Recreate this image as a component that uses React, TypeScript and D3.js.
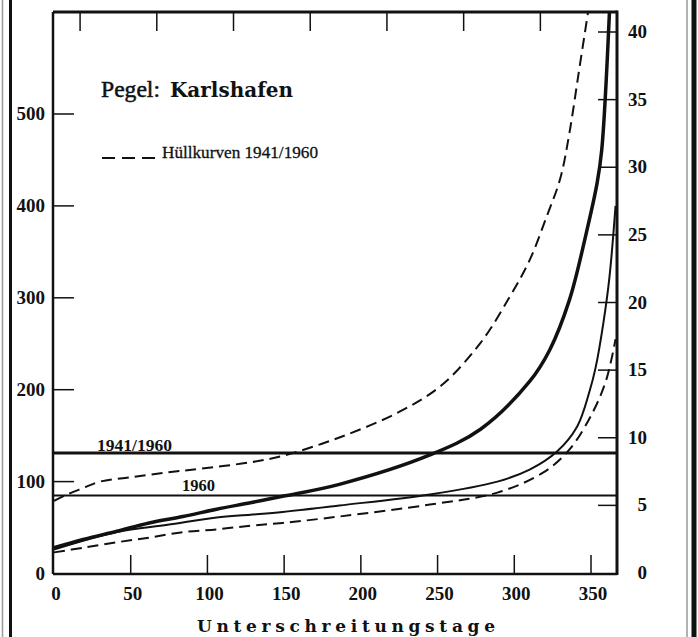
import React from "react";
import * as d3 from "d3";

// Unterschreitungstage (days) / Wasserstand (cm)
const hullUpper: [number, number][] = [
  [0, 79], [8.5, 86], [19, 93], [30, 100], [51, 105], [74, 110], [95, 114], [128, 121],
  [149, 128], [186, 148], [224, 175], [252, 204], [278, 251], [297, 301], [310, 341],
  [321, 388], [330, 430], [336, 480], [342, 545], [348, 610],
];
const median4160: [number, number][] = [
  [0, 28], [19, 37], [41, 46], [62, 55], [84, 62], [106, 70], [128, 77], [149, 84],
  [186, 97], [245, 129], [278, 157], [310, 209], [323, 243], [336, 298], [347, 371],
  [354, 425], [357, 461], [362, 610],
];
const curve1960: [number, number][] = [
  [0, 26], [41, 45], [74, 53], [106, 61], [128, 64], [149, 67], [186, 74], [245, 86],
  [289, 100], [310, 113], [328, 133], [341, 160], [349, 198], [353, 224], [358, 272],
  [362, 322], [366, 400],
];
const hullLower: [number, number][] = [
  [0, 23], [19, 28], [41, 34], [62, 39], [84, 45], [106, 48], [128, 52], [149, 55],
  [186, 62], [245, 75], [289, 88], [319, 110], [336, 135], [351, 175], [360, 211],
  [366, 255],
];

const levelLines = [
  { label: "1941/1960", value: 131, width: 3 },
  { label: "1960", value: 85, width: 2 },
];

const xTicks = [50, 100, 150, 200, 250, 300, 350];
const xLabels = [0, 50, 100, 150, 200, 250, 300, 350];
const topTicks = [17, 67, 117, 167, 217, 267, 317];
const leftTicks = [100, 200, 300, 400, 500];
const leftLabels = [0, 100, 200, 300, 400, 500];
const rightTicks = [5, 10, 15, 20, 25, 30, 35, 40];
const rightLabels = [0, 5, 10, 15, 20, 25, 30, 35, 40];

export default function App() {
  const W = 698, H = 637;
  const L = 53, R = 617, T = 12, B = 574;
  const x = d3.scaleLinear().domain([0, 350]).range([54, 591]);
  const yL = d3.scaleLinear().domain([0, 500]).range([573.5, 114]);
  const yR = d3.scaleLinear().domain([0, 40]).range([573, 32]);
  const line = d3
    .line<[number, number]>()
    .x((d) => x(d[0]))
    .y((d) => yL(d[1]))
    .curve(d3.curveCatmullRom.alpha(0.5));

  const num = { fontFamily: "'Liberation Serif', serif", fontWeight: 700, fontSize: 19 } as const;
  const ink = "#111";

  return (
    <svg
      width={W}
      height={H}
      viewBox={`0 0 ${W} ${H}`}
      style={{ position: "absolute", left: 0, top: 0, background: "#fff" }}
    >
      <rect x={0} y={0} width={W} height={H} fill="#fff" />
      {/* scan border lines */}
      <line x1={2.5} y1={0} x2={2.5} y2={H} stroke="#999" strokeWidth={1.5} />
      <line x1={10.5} y1={0} x2={10.5} y2={H} stroke={ink} strokeWidth={3} />
      <line x1={687} y1={0} x2={687} y2={H} stroke="#999" strokeWidth={1.5} />
      <line x1={694} y1={0} x2={694} y2={H} stroke={ink} strokeWidth={5} />

      <defs>
        <clipPath id="plot">
          <rect x={L} y={T} width={R - L} height={B - T} />
        </clipPath>
      </defs>

      {/* ticks */}
      {xTicks.map((t) => (
        <line key={"xb" + t} x1={x(t)} x2={x(t)} y1={B} y2={B - 19} stroke={ink} strokeWidth={1.5} />
      ))}
      {topTicks.map((t) => (
        <line key={"xt" + t} x1={x(t)} x2={x(t)} y1={T} y2={T + 19} stroke={ink} strokeWidth={1.5} />
      ))}
      {leftTicks.map((t) => (
        <line key={"yl" + t} x1={L} x2={L + 21} y1={yL(t)} y2={yL(t)} stroke={ink} strokeWidth={1.5} />
      ))}
      {rightTicks.map((t) => (
        <line key={"yr" + t} x1={R} x2={R - 19} y1={yR(t)} y2={yR(t)} stroke={ink} strokeWidth={1.5} />
      ))}

      {/* level lines */}
      {levelLines.map((l) => (
        <line key={l.label} x1={L} x2={R} y1={yL(l.value)} y2={yL(l.value)} stroke={ink} strokeWidth={l.width} />
      ))}
      <text x={97} y={yL(131) - 2.5} textLength={75} lengthAdjust="spacingAndGlyphs"
        style={{ ...num, fontSize: 17 }} fill={ink}>1941/1960</text>
      <text x={182} y={yL(85) - 4} textLength={33} lengthAdjust="spacingAndGlyphs"
        style={{ ...num, fontSize: 17 }} fill={ink}>1960</text>

      {/* curves */}
      <g clipPath="url(#plot)" fill="none" stroke={ink} strokeLinecap="butt">
        <path d={line(hullUpper) || ""} strokeWidth={2} strokeDasharray="11,6" />
        <path d={line(hullLower) || ""} strokeWidth={2} strokeDasharray="11,6" />
        <path d={line(curve1960) || ""} strokeWidth={2} />
        <path d={line(median4160) || ""} strokeWidth={3.5} />
      </g>

      {/* frame */}
      <line x1={L} y1={T} x2={R} y2={T} stroke={ink} strokeWidth={3} />
      <line x1={L} y1={T} x2={L} y2={B} stroke={ink} strokeWidth={2.5} />
      <line x1={R} y1={T - 1.5} x2={R} y2={B + 1} stroke={ink} strokeWidth={3} />
      <line x1={L} y1={B} x2={R} y2={B} stroke={ink} strokeWidth={2.5} />

      {/* tick labels */}
      {xLabels.map((t) => (
        <text key={"lx" + t} x={x(t) + 2} y={600} textAnchor="middle" style={num} fill={ink}>{t}</text>
      ))}
      {leftLabels.map((t) => (
        <text key={"ll" + t} x={45} y={yL(t) + 6} textAnchor="end" style={num} fill={ink}>{t}</text>
      ))}
      {rightLabels.map((t) => (
        <text key={"lr" + t} x={647} y={yR(t) + 6} textAnchor="end" style={num} fill={ink}>{t}</text>
      ))}

      {/* title & legend */}
      <text x={101} y={97} textLength={59} lengthAdjust="spacingAndGlyphs" stroke={ink} strokeWidth={0.5}
        style={{ fontFamily: "'Liberation Serif', serif", fontSize: 23 }} fill={ink}>Pegel:</text>
      <text x={170} y={97} textLength={123} lengthAdjust="spacingAndGlyphs"
        style={{ fontFamily: "'DejaVu Serif', serif", fontWeight: 700, fontSize: 19.5 }} fill={ink}>Karlshafen</text>
      <line x1={102} x2={155} y1={158} y2={158} stroke={ink} strokeWidth={2} strokeDasharray="13,7" />
      <text x={162} y={158} textLength={156} lengthAdjust="spacingAndGlyphs" stroke={ink} strokeWidth={0.3}
        style={{ fontFamily: "'Liberation Serif', serif", fontSize: 17 }} fill={ink}>Hüllkurven 1941/1960</text>

      {/* axis title */}
      <text x={197} y={632} textLength={298} lengthAdjust="spacing"
        style={{ fontFamily: "'DejaVu Serif', serif", fontWeight: 700, fontSize: 17 }} fill={ink}>Unterschreitungstage</text>
    </svg>
  );
}
